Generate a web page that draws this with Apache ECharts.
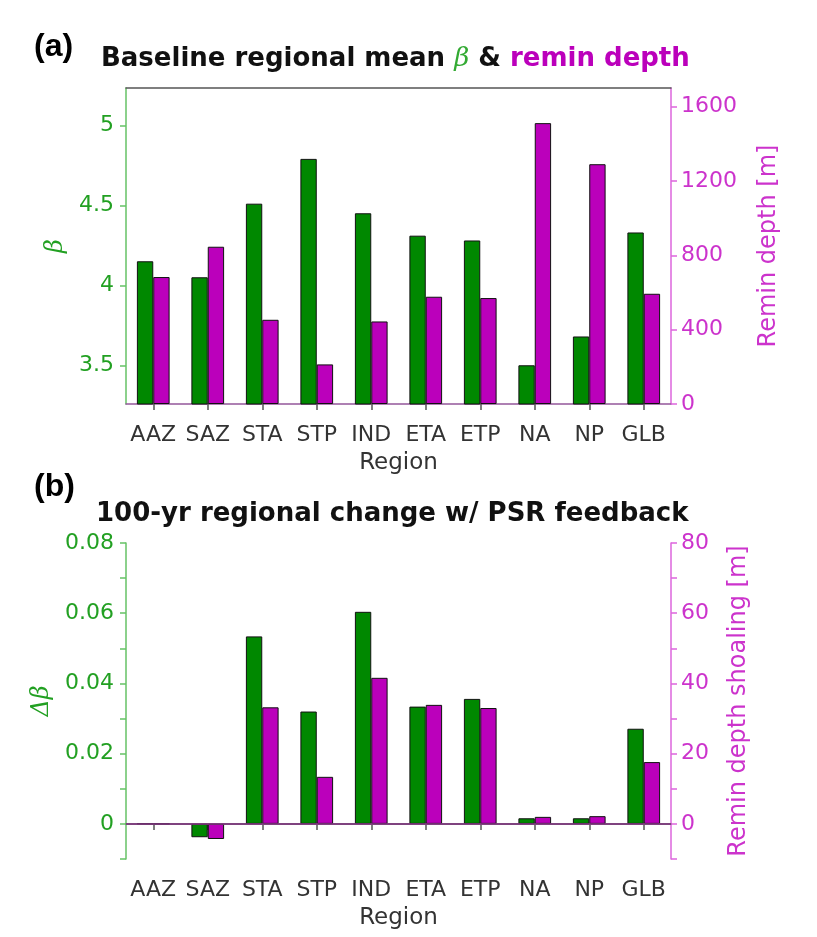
<!DOCTYPE html>
<html>
<head>
<meta charset="utf-8">
<script src="https://cdn.jsdelivr.net/npm/echarts@6/dist/echarts.min.js"></script>
<style>
html,body{margin:0;padding:0;background:#fff;}
#c{width:817px;height:937px;}
</style>
</head>
<body>
<div id="c"></div>
<script>
// ---- data ----
const regions = ['AAZ','SAZ','STA','STP','IND','ETA','ETP','NA','NP','GLB'];
// panel (a): baseline regional mean beta and remin depth [m]
const betaBaseline = [4.15, 4.05, 4.51, 4.79, 4.45, 4.31, 4.28, 3.50, 3.68, 4.33];
const reminDepth   = [683, 846, 453, 213, 444, 577, 570, 1511, 1290, 593];
// panel (b): 100-yr change with PSR feedback
const deltaBeta    = [0.0001, -0.0038, 0.0534, 0.0320, 0.0604, 0.0334, 0.0356, 0.0016, 0.0016, 0.0271];
const reminShoal   = [0.05, -4.3, 33.2, 13.4, 41.6, 33.9, 33.0, 2.0, 2.2, 17.6];
// tick values
const betaTicks    = [3.5, 4, 4.5, 5];
const depthTicks   = [0, 400, 800, 1200, 1600];
const dBetaTicks   = [-0.01, 0, 0.01, 0.02, 0.03, 0.04, 0.05, 0.06, 0.07, 0.08];
const dBetaLabels  = [0, 0.02, 0.04, 0.06, 0.08];
const shoalTicks   = [-10, 0, 10, 20, 30, 40, 50, 60, 70, 80];
const shoalLabels  = [0, 20, 40, 60, 80];

const GREEN = '#008800', MAG = '#bb00bb';
const GTXT = '#22a022', MTXT = '#cc33cc';
const GLINE = '#66c266', MLINE = '#dd66dd';
const FONT = 'DejaVu Sans';

const chart = echarts.init(document.getElementById('c'), null, {renderer:'canvas'});

function xBottom(grid, lineColor){
  return {
    type:'category', gridIndex:grid, data:regions, position:'bottom',
    axisLine:{show:true, lineStyle:{color:lineColor, width:1.5}},
    axisTick:{show:true, alignWithLabel:true, length:6, lineStyle:{color:'#555', width:1.5}},
    axisLabel:{color:'#333', fontSize:22, fontFamily:FONT, margin:20, interval:0},
    name:'Region', nameLocation:'middle', nameGap:48,
    nameTextStyle:{color:'#333', fontSize:23, fontFamily:FONT}
  };
}
function xTop(grid){
  return {
    type:'category', gridIndex:grid, data:regions, position:'top',
    axisLine:{show:true, lineStyle:{color:'#555', width:1.5}},
    axisTick:{show:false}, axisLabel:{show:false}
  };
}
function yAx(grid, pos, min, max, ticks, labels, color, lineColor, name, gap, nameSize, nameFont, nameStyle){
  return {
    type:'value', gridIndex:grid, position:pos, min:min, max:max,
    splitLine:{show:false},
    axisLine:{show:true, lineStyle:{color:lineColor, width:1.5}},
    axisTick:{show:true, length:6, customValues:ticks, lineStyle:{color:lineColor, width:1.5}},
    axisLabel:{color:color, fontSize:22, fontFamily:FONT, margin:pos === 'left' ? 12 : 10, customValues:labels,
      formatter: v => String(Math.round(v*1000)/1000)},
    name:name, nameLocation:'middle', nameGap:gap, nameRotate:90,
    nameTextStyle:{color:color, fontSize:nameSize, fontFamily:nameFont, fontStyle:nameStyle||'normal'}
  };
}
function bar(name, xi, yi, data, color){
  return {
    name:name, type:'bar', xAxisIndex:xi, yAxisIndex:yi, data:data,
    barCategoryGap:'40%', barGap:'0%', clip:true,
    itemStyle:{color:color, borderColor:'#111', borderWidth:1},
    emphasis:{disabled:true}, animation:false
  };
}

const option = {
  animation:false,
  backgroundColor:'#fff',
  title:[
    {text:'(a)', left:29, top:26, textStyle:{fontFamily:'Liberation Sans', fontWeight:'bold', fontSize:32, color:'#000'}},
    {text:'Baseline regional mean {b|β} & {m|remin depth}', left:96, top:41,
     textStyle:{fontFamily:FONT, fontWeight:'bold', fontSize:26, color:'#111',
       rich:{b:{fontFamily:'DejaVu Serif', fontStyle:'italic', fontWeight:'normal', fontSize:26, color:'#33aa33'},
             m:{fontFamily:FONT, fontWeight:'bold', fontSize:26, color:MAG}}}},
    {text:'(b)', left:29, top:466, textStyle:{fontFamily:'Liberation Sans', fontWeight:'bold', fontSize:32, color:'#000'}},
    {text:'100-yr regional change w/ PSR feedback', left:91, top:496,
     textStyle:{fontFamily:FONT, fontWeight:'bold', fontSize:26, color:'#111'}}
  ],
  grid:[
    {left:126, right:146, top:88, height:316, containLabel:false},
    {left:126, right:146, top:543, height:316, containLabel:false}
  ],
  xAxis:[ xBottom(0, '#94579a'), xTop(0), xBottom(1, '#555'), xTop(1) ],
  yAxis:[
    yAx(0,'left', 3.258, 5.233, betaTicks, betaTicks, GTXT, GLINE, 'β', 58, 24, 'DejaVu Serif', 'italic'),
    yAx(0,'right', 0, 1700, depthTicks, depthTicks, MTXT, MLINE, 'Remin depth [m]', 86, 24, FONT),
    yAx(1,'left', -0.01, 0.08, dBetaTicks, dBetaLabels, GTXT, GLINE, 'Δβ', 68, 24, 'DejaVu Serif', 'italic'),
    yAx(1,'right', -10, 80, shoalTicks, shoalLabels, MTXT, MLINE, 'Remin depth shoaling [m]', 56, 24, FONT)
  ],
  series:[
    bar('beta', 0, 0, betaBaseline, GREEN),
    bar('remin', 0, 1, reminDepth, MAG),
    Object.assign(bar('dbeta', 2, 2, deltaBeta, GREEN), {
      markLine:{silent:true, symbol:['none','none'], label:{show:false},
        lineStyle:{color:'#8a3a8a', width:1.5, type:'solid'}, data:[{yAxis:0}]}
    }),
    bar('shoal', 2, 3, reminShoal, MAG)
  ]
};
chart.setOption(option);
</script>
</body>
</html>
